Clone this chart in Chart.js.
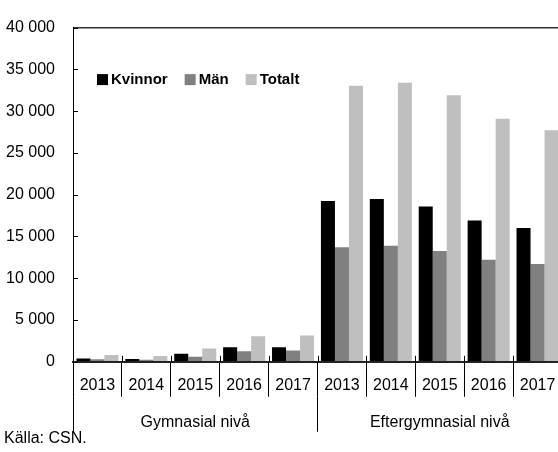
<!DOCTYPE html>
<html>
<head>
<meta charset="utf-8">
<script src="https://cdn.jsdelivr.net/npm/chart.js@4.4.0/dist/chart.umd.min.js"></script>
<style>
html,body{margin:0;padding:0;background:#fff;overflow:hidden}
#wrap{position:relative;width:563px;height:452px}
</style>
</head>
<body>
<div id="wrap"><canvas id="studyChart"></canvas></div>
<script>
/* =====================================================
DATA
===================================================== */

const years=["2013","2014","2015","2016","2017","2013","2014","2015","2016","2017"]
const levels=["Gymnasial nivå","Eftergymnasial nivå"]

const kvinnor=[400,350,950,1750,1750,19250,19500,18600,16900,16000]
const man=[300,250,600,1250,1350,13700,13900,13250,12200,11700]
const totalt=[800,700,1600,3050,3150,33050,33400,31900,29100,27700]

const FONT="'Liberation Sans Narrow','Liberation Sans',Arial,sans-serif"


/* =====================================================
HELPERS / PLUGINS
===================================================== */

function fmt(v){
return String(v).replace(/\B(?=(\d{3})+(?!\d))/g," ")
}

// legend drawn inside the plot, top left
const inlineLegend={
id:"inlineLegend",
afterDraw(chart){
const {ctx,chartArea}=chart
ctx.save()
ctx.font="bold 15px "+FONT
ctx.textBaseline="middle"
let x=chartArea.left+24
const y=chartArea.top+52
chart.data.datasets.forEach(ds=>{
ctx.fillStyle=ds.backgroundColor
ctx.fillRect(x,y-5.5,11,11)
ctx.fillStyle="#000"
ctx.fillText(ds.label,x+14,y+0.5)
x+=14+ctx.measureText(ds.label).width+17
})
ctx.restore()
}
}

// short tick marks pointing into the plot
const innerTicks={
id:"innerTicks",
afterDraw(chart){
const {ctx,chartArea,scales}=chart
ctx.save()
ctx.strokeStyle="#000"
ctx.lineWidth=1
ctx.beginPath()
scales.y.ticks.forEach(t=>{
const py=Math.round(scales.y.getPixelForValue(t.value))+0.5
ctx.moveTo(chartArea.left,py)
ctx.lineTo(chartArea.left+5,py)
})
const n=scales.x.ticks.length
const w=(chartArea.right-chartArea.left)/n
for(let i=0;i<=n;i++){
const px=Math.round(chartArea.left+i*w)+0.5
ctx.moveTo(px,chartArea.bottom)
ctx.lineTo(px,chartArea.bottom-6)
}
ctx.stroke()
ctx.restore()
}
}


/* =====================================================
CHART
===================================================== */

Chart.defaults.font.family=FONT
Chart.defaults.color="#000"

new Chart(document.getElementById("studyChart"),{
type:"bar",
data:{
labels:years,
datasets:[
{label:"Kvinnor",data:kvinnor,backgroundColor:"#000000",borderWidth:0},
{label:"Män",data:man,backgroundColor:"#808080",borderWidth:0},
{label:"Totalt",data:totalt,backgroundColor:"#bfbfbf",borderWidth:0}
]
},
options:{
responsive:true,
maintainAspectRatio:false,
animation:false,
categoryPercentage:0.86,
barPercentage:1,
layout:{padding:{top:24,right:1,left:4,bottom:0}},
plugins:{
legend:{display:false},
tooltip:{enabled:false},
title:{
display:true,
text:"Källa: CSN.",
position:"bottom",
align:"start",
color:"#000",
font:{size:16,weight:"normal"},
padding:{top:-3,bottom:4}
}
},
scales:{
x:{
weight:0,
offset:true,
grid:{offset:true,drawOnChartArea:false,drawTicks:true,tickLength:35,tickColor:"#000",tickWidth:1},
border:{display:true,color:"#222",width:2},
ticks:{font:{size:16},padding:-21,maxRotation:0,autoSkip:false},
afterFit:s=>{s.height=35}
},
x2:{
type:"category",
labels:levels,
position:"bottom",
weight:1,
offset:true,
grid:{offset:true,drawOnChartArea:false,drawTicks:true,tickLength:35,tickColor:"#000",tickWidth:1},
border:{display:false},
ticks:{font:{size:16},padding:-19,maxRotation:0},
afterFit:s=>{s.height=35}
},
y:{
min:0,
max:40000,
ticks:{stepSize:5000,padding:18,font:{size:16},callback:v=>fmt(v)},
grid:{drawTicks:false,lineWidth:1.5,color:c=>c.tick&&c.tick.value===40000?"#333":"rgba(0,0,0,0)"},
border:{display:true,color:"#000",width:1},
afterFit:s=>{s.width=69}
}
}
},
plugins:[inlineLegend,innerTicks]
})
</script>
</body>
</html>
